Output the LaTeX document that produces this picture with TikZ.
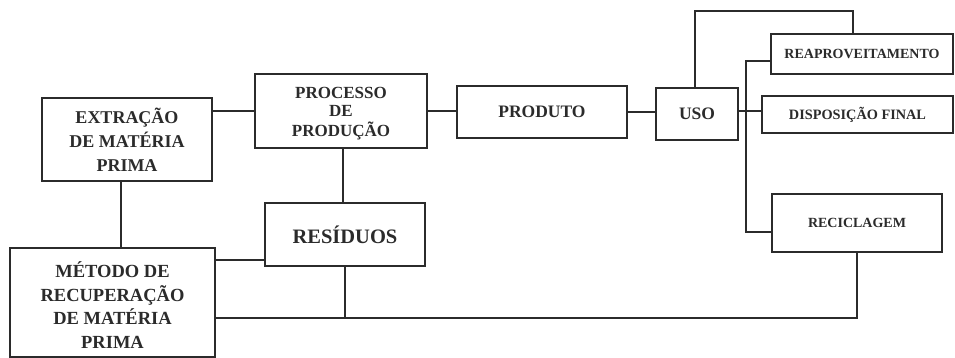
\documentclass[tikz,border=0pt]{standalone}
\usepackage{fontspec}
\setmainfont{Liberation Serif}
\definecolor{ink}{HTML}{2B2B2B}
\tikzset{
  box/.style={draw=ink, line width=1.6pt, fill=white, text=ink, align=center,
    inner sep=0pt, font=\bfseries},
  link/.style={draw=ink, line width=1.7pt},
}
\newcommand{\fs}[2]{\fontsize{#1}{#2}\selectfont}
% stacked lines, lowered by #1 inside their box
\newcommand{\lowstack}[2]{\raisebox{-#1}[0pt][0pt]{\begin{tabular}{@{}c@{}}#2\end{tabular}}}
\begin{document}
\begin{tikzpicture}[x=1pt, y=-1pt]
  \useasboundingbox[fill=white] (0,0) rectangle (955,358);

  % boxes
  \node[box, minimum width=170pt, minimum height=83pt, font=\bfseries\fs{18}{24}]
    (ext) at (127,139.5) {EXTRAÇÃO\\DE MATÉRIA\\PRIMA};
  \node[box, minimum width=172pt, minimum height=74pt, font=\bfseries\fs{17}{18}]
    (proc) at (341,111) {\lowstack{7.5pt}{PROCESSO\\DE\\PRODUÇÃO}};
  \node[box, minimum width=170pt, minimum height=52pt, font=\bfseries\fs{17.5}{18}]
    (prod) at (542,112) {PRODUTO};
  \node[box, minimum width=82pt, minimum height=52pt, font=\bfseries\fs{17.5}{18}]
    (uso) at (697,114) {USO};
  \node[box, minimum width=182pt, minimum height=40pt, font=\bfseries\fs{14}{15}]
    (reap) at (862,54) {REAPROVEITAMENTO};
  \node[box, minimum width=191pt, minimum height=37pt, font=\bfseries\fs{14.3}{15}]
    (disp) at (857.5,114.5) {DISPOSIÇÃO FINAL};
  \node[box, minimum width=170pt, minimum height=58pt, font=\bfseries\fs{14}{15}]
    (recic) at (857,223) {RECICLAGEM};
  \node[box, minimum width=160pt, minimum height=63pt, font=\bfseries\fs{20.5}{22}]
    (res) at (345,234.5) {RESÍDUOS};
  \node[box, minimum width=205pt, minimum height=109pt, font=\bfseries\fs{18.5}{23.5}]
    (met) at (112.5,302.5) {\lowstack{10pt}{MÉTODO DE\\RECUPERAÇÃO\\DE MATÉRIA\\PRIMA}};

  % routing points
  \coordinate (loopTop) at (853,11);
  \coordinate (busTop) at (746,61);
  \coordinate (busLow) at (746,232);
  \coordinate (usoLink) at (700,111);
  \coordinate (resLink) at (240,260);
  \coordinate (bottomLine) at (500,318);

  % main chain
  \draw[link] (ext.east |- proc.west) -- (proc.west);
  \draw[link] (proc.east) -- (prod.west |- proc.east);
  \draw[link] (prod.east) -- (uso.west |- prod.east);
  \draw[link] (uso.east |- usoLink) -- (disp.west |- usoLink);

  % feedback over the top to reuse
  \draw[link] ([xshift=-2pt]uso.north) |- (loopTop) -- (loopTop |- reap.north);

  % bus joining reuse and recycling
  \draw[link] (reap.west |- busTop) -- (busTop) -- (busLow) -- (recic.west |- busLow);

  % extraction to recovery, process to waste
  \draw[link] ([xshift=-6pt]ext.south) coordinate (extDown) -- (extDown |- met.north);
  \draw[link] ([xshift=2pt]proc.south) coordinate (procDown) -- (procDown |- res.north);
  \draw[link] (met.east |- resLink) -- (res.west |- resLink);

  % bottom return line
  \draw[link] (met.east |- bottomLine) -- (recic.south |- bottomLine) -- (recic.south);
  \draw[link] (res.south) -- (res.south |- bottomLine);
\end{tikzpicture}
\end{document}
